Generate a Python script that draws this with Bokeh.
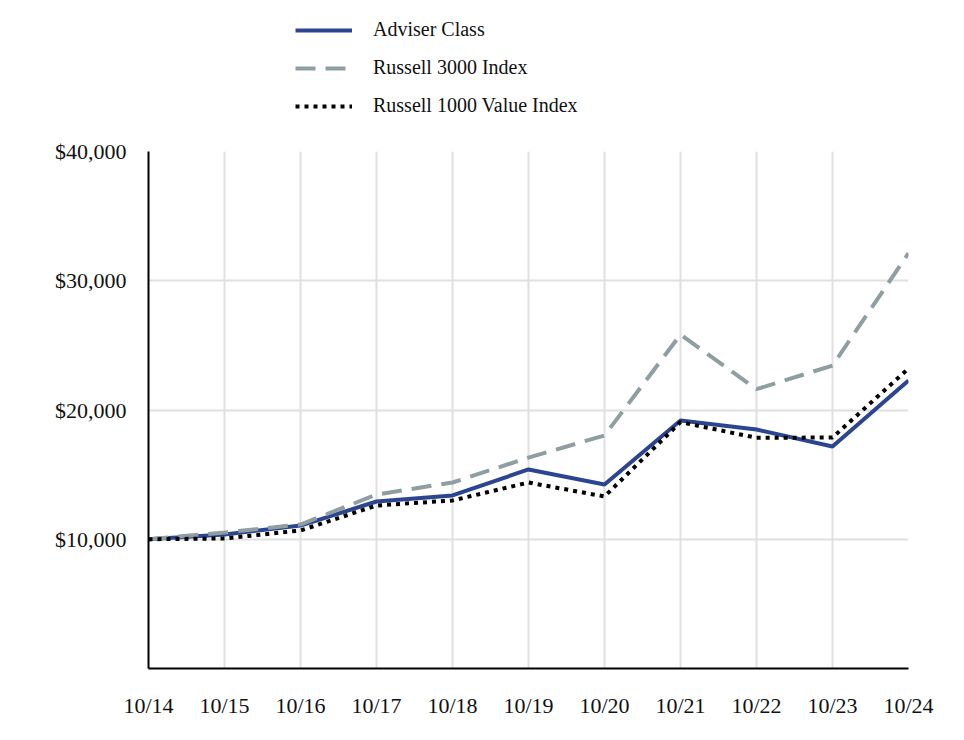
from bokeh.plotting import figure
from bokeh.layouts import column
from bokeh.models import FixedTicker, NumeralTickFormatter, Legend, LegendItem, Range1d
from bokeh.embed import file_html
from bokeh.resources import INLINE

labels = ["10/14", "10/15", "10/16", "10/17", "10/18", "10/19", "10/20", "10/21", "10/22", "10/23", "10/24"]
adviser = [10000, 10370, 11060, 12920, 13390, 15400, 14240, 19190, 18490, 17180, 22280]
russell3000 = [10000, 10520, 11140, 13460, 14390, 16320, 18030, 25840, 21610, 23440, 32130]
russell1000v = [10000, 10060, 10680, 12610, 13000, 14390, 13310, 19060, 17850, 17870, 23210]
series_names = ["Adviser Class", "Russell 3000 Index", "Russell 1000 Value Index"]
y_ticks = [10000, 20000, 30000, 40000]

FONT = "Liberation Serif"
xs = list(range(len(labels)))
styles = [dict(line_color="#2c4591", line_width=4),
          dict(line_color="#8f9ea1", line_width=4, line_dash="20 10"),
          dict(line_color="#000000", line_width=4, line_dash="4 5")]

# main chart
p = figure(width=948, height=597, output_backend="svg", toolbar_location=None,
           x_range=Range1d(0, len(labels) - 1), y_range=Range1d(0, 40000),
           min_border_left=148, min_border_right=40, min_border_top=20, min_border_bottom=60)
p.outline_line_color = None

series = [adviser, russell3000, russell1000v]
renderers = []
for data, st in zip(series, styles):
    renderers.append(p.line(xs, data, **st))

p.xaxis.ticker = FixedTicker(ticks=xs)
p.xaxis.major_label_overrides = {i: l for i, l in enumerate(labels)}
p.yaxis.ticker = FixedTicker(ticks=y_ticks)
p.yaxis.formatter = NumeralTickFormatter(format="$0,0")

for ax in (p.xaxis, p.yaxis):
    ax.major_tick_line_color = None
    ax.minor_tick_line_color = None
    ax.axis_line_color = "#000000"
    ax.axis_line_width = 2
    ax.major_label_text_font = FONT
    ax.major_label_text_font_size = "22px"
    ax.major_label_text_color = "#111111"
p.xaxis.major_label_standoff = 18
p.yaxis.major_label_standoff = 16

p.xgrid.ticker = FixedTicker(ticks=xs)
p.ygrid.ticker = FixedTicker(ticks=y_ticks)
p.grid.grid_line_color = "#e0e0e0"
p.grid.grid_line_width = 2

# legend strip above the chart: same series, drawn outside its visible range
lf = figure(width=948, height=131, output_backend="svg", toolbar_location=None,
            x_range=Range1d(-100, -99), y_range=Range1d(-100, -99),
            min_border_left=0, min_border_right=0, min_border_top=0, min_border_bottom=0)
lf.axis.visible = False
lf.grid.visible = False
lf.outline_line_color = None
items = []
for name, data, st in zip(series_names, series, styles):
    r = lf.line(xs, data, **st)
    items.append(LegendItem(label=name, renderers=[r]))

legend = Legend(items=items, location=(147, 14))
legend.border_line_color = None
legend.background_fill_alpha = 0
legend.padding = 0
legend.margin = 0
legend.spacing = 15
legend.glyph_width = 57
legend.glyph_height = 20
legend.label_height = 20
legend.label_standoff = 21
legend.label_text_font = FONT
legend.label_text_font_size = "20px"
legend.label_text_color = "#111111"
lf.add_layout(legend, "center")

layout = column(lf, p, spacing=0)
open("out.html", "w").write(file_html(layout, INLINE))
